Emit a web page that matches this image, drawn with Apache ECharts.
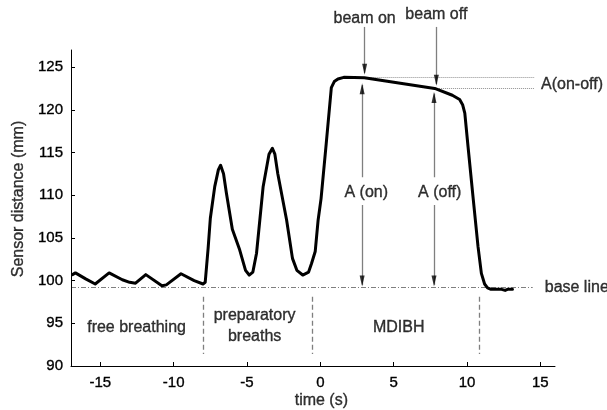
<!DOCTYPE html>
<html>
<head>
<meta charset="utf-8">
<script src="https://cdn.jsdelivr.net/npm/echarts@6/dist/echarts.min.js"></script>
<style>html,body{margin:0;padding:0;background:#fff}#c{width:607px;height:410px}</style>
</head>
<body>
<div id="c"></div>
<script>
// ---- data ----
const timeS = [-16.9,-16.7,-16.0,-15.35,-14.4,-13.5,-13.0,-12.6,-11.9,-10.8,-10.5,-9.5,-8.6,-8.0,-7.85,
  -7.65,-7.5,-7.2,-6.95,-6.8,-6.6,-6.4,-6.0,-5.5,-5.1,-4.85,-4.6,-4.35,-3.9,-3.5,-3.27,-3.1,-2.9,-2.3,-1.9,-1.6,-1.2,-0.8,-0.6,-0.35,-0.15,0.05,0.4,0.75,0.95,1.2,1.6,
  3.0,7.8,9.0,9.5,9.7,9.85,10.07,10.41,10.75,10.98,11.2,11.4,11.6,12.3,12.6,12.8,13.1];
const distanceMm = [100.7,100.9,100.2,99.6,100.9,100.1,99.8,99.7,100.7,99.4,99.5,100.8,100.0,99.6,99.8,
  103.8,107.3,111.0,113.0,113.5,112.5,110.2,106.0,103.6,101.2,100.65,101.0,103.2,111.0,114.8,115.5,114.8,112.5,107.1,102.6,101.2,100.65,101.0,102.0,103.4,107.1,109.6,116.0,122.6,123.3,123.6,123.8,
  123.75,122.5,121.7,121.2,120.6,119.6,115.7,109.8,104.0,100.85,99.6,99.15,99.0,99.0,98.85,99.0,99.0];
const xTicks = [-15,-10,-5,0,5,10,15];
const yTicks = [90,95,100,105,110,115,120,125];
const baseLineMm = 99.2;
const beamOnS = 3.02, beamOffS = 7.91;
const aOnS = 2.85, aOffS = 7.75;
const aOnMm = 123.77, aOffMm = 122.5;
const phaseBoundsS = [-7.96, -0.55, 10.82];

const font = 'Liberation Sans, Arial, sans-serif';
const txt = (size) => ({color:'#000', fontFamily:font, fontSize:size, textBorderColor:'#000', textBorderWidth:0.35});

const chart = echarts.init(document.getElementById('c'), null, {renderer:'canvas'});

const thin = {color:'#000', width:1.3, type:'solid'};
const dashed = {color:'#000', width:1.3, type:[5,3]};
const dotted = {color:'#222', width:1, type:[1,1]};
const dashDot = {color:'#000', width:1.2, type:[5,2,1,2]};

// segments in data units: [x1,y1,x2,y2,style]
const segs = [
  [-17, baseLineMm, 14.48, baseLineMm, dashDot],
  [beamOnS, aOnMm, 14.62, aOnMm, dotted],
  [beamOffS-0.1, aOffMm, 14.62, aOffMm, dotted],
  [phaseBoundsS[0], 98.1, phaseBoundsS[0], 91.4, dashed],
  [phaseBoundsS[1], 98.1, phaseBoundsS[1], 91.4, dashed],
  [phaseBoundsS[2], 98.1, phaseBoundsS[2], 91.4, dashed],
  [beamOnS, 129.7, beamOnS, 124.3, thin],
  [beamOffS, 129.7, beamOffS, 123.0, thin],
  [aOnS, 112.1, aOnS, 122.9, thin],
  [aOnS, 108.85, aOnS, 99.5, thin],
  [aOffS, 112.1, aOffS, 121.9, thin],
  [aOffS, 108.85, aOffS, 99.5, thin]
];
// arrow tips: [x, y, direction]
const tips = [
  [beamOnS, 124.1, 'down'],
  [beamOffS, 122.8, 'down'],
  [aOnS, 123.1, 'up'],
  [aOnS, 99.3, 'down'],
  [aOffS, 122.1, 'up'],
  [aOffS, 99.3, 'down']
];
const headLenMm = 1.3;

const labels = [
  {v:[beamOnS, 130.7], t:'beam on', pos:'inside'},
  {v:[beamOffS, 131.1], t:'beam off', pos:'inside'},
  {v:[15.05, 122.9], t:'A(on-off)', pos:'right'},
  {v:[15.3, baseLineMm], t:'base line', pos:'right'},
  {v:[3.13, 110.25], t:'A (on)', pos:'inside'},
  {v:[8.14, 110.25], t:'A (off)', pos:'inside'},
  {v:[-12.53, 94.45], t:'free breathing', pos:'inside'},
  {v:[-4.48, 94.68], t:'preparatory\nbreaths', pos:'inside'},
  {v:[5.34, 94.45], t:'MDIBH', pos:'inside'},
  {v:[0.07, 86.0], t:'time (s)', pos:'inside'},
  {v:[-20.58, 109.55], t:'Sensor distance (mm)', pos:'inside', rot:90}
];

chart.setOption({
  animation:false,
  backgroundColor:'#fff',
  grid:{left:71, top:50, right:52, bottom:44, containLabel:false},
  xAxis:{
    type:'value', min:-17, max:16,
    axisLine:{show:true, onZero:false, lineStyle:{color:'#000', width:1}},
    axisTick:{show:true, inside:true, length:4, lineStyle:{color:'#000'}, customValues:xTicks},
    axisLabel:Object.assign({margin:9, customValues:xTicks}, txt(15)),
    splitLine:{show:false}
  },
  yAxis:{
    type:'value', min:90, max:127,
    axisLine:{show:true, onZero:false, lineStyle:{color:'#000', width:1}},
    axisTick:{show:true, inside:true, length:4, lineStyle:{color:'#000'}, customValues:yTicks},
    axisLabel:Object.assign({margin:8, customValues:yTicks}, txt(15)),
    splitLine:{show:false}
  },
  series:[
    {
      type:'line', data:timeS.map((t,i)=>[t, distanceMm[i]]),
      showSymbol:false, symbol:'none', smooth:false, clip:false,
      lineStyle:{color:'#000', width:3, join:'round', cap:'round'},
      z:5
    },
    {
      type:'lines', coordinateSystem:'cartesian2d', clip:false, silent:true, polyline:false,
      symbol:'none',
      data:segs.map(s=>({coords:[[s[0],s[1]],[s[2],s[3]]], lineStyle:s[4]})),
      z:3
    },
    {
      type:'scatter', clip:false, silent:true, symbol:'triangle', symbolSize:[5,11],
      itemStyle:{color:'#000'},
      data:tips.map(p=>({value:[p[0], p[2]==='down' ? p[1]+headLenMm/2 : p[1]-headLenMm/2], symbolRotate: p[2]==='down'?180:0})),
      z:6
    },
    {
      type:'scatter', clip:false, symbolSize:0, silent:true,
      data:labels.map(l=>({value:l.v, label:{show:true, formatter:l.t, position:l.pos, distance:0, rotate:l.rot||0, align: l.pos==='right'?'left':'center', verticalAlign:'middle', lineHeight:21, ...txt(16)}}))
    }
  ]
});
</script>
</body>
</html>
